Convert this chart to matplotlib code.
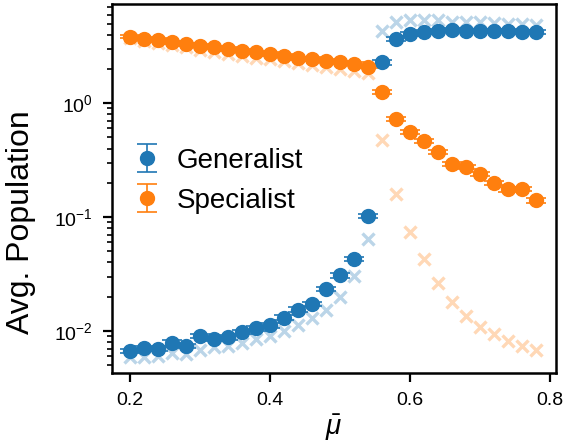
import matplotlib
matplotlib.use('Agg')
import matplotlib.pyplot as plt

plt.rcParams['font.family'] = ['Liberation Sans', 'DejaVu Sans']
plt.rcParams['mathtext.fontset'] = 'custom'
plt.rcParams['mathtext.rm'] = 'Liberation Sans'
plt.rcParams['mathtext.it'] = 'Liberation Sans:italic'

mu = [0.20, 0.22, 0.24, 0.26, 0.28, 0.30, 0.32, 0.34, 0.36, 0.38,
      0.40, 0.42, 0.44, 0.46, 0.48, 0.50, 0.52, 0.54, 0.56, 0.58,
      0.60, 0.62, 0.64, 0.66, 0.68, 0.70, 0.72, 0.74, 0.76, 0.78]

# simulation (circles with error bars)
gen_sim = [0.00667, 0.00709, 0.00690, 0.00784, 0.00733, 0.00898, 0.00850, 0.00875, 0.00970, 0.0105,
           0.0112, 0.0131, 0.0154, 0.0173, 0.0234, 0.0307, 0.0430, 0.102, 2.28, 3.66,
           4.07, 4.24, 4.35, 4.41, 4.35, 4.30, 4.32, 4.32, 4.21, 4.21]
gen_err = [0.0003, 0.0003, 0.0003, 0.0004, 0.0003, 0.0004, 0.0004, 0.0004, 0.0004, 0.0005,
           0.0005, 0.0006, 0.0007, 0.0008, 0.0010, 0.0013, 0.0018, 0.004, 0.10, 0.15,
           0.15, 0.15, 0.15, 0.15, 0.15, 0.15, 0.15, 0.15, 0.15, 0.15]
spe_sim = [3.85, 3.68, 3.60, 3.44, 3.30, 3.19, 3.11, 3.00, 2.88, 2.81,
           2.70, 2.62, 2.49, 2.45, 2.37, 2.29, 2.22, 2.10, 1.265, 0.723,
           0.556, 0.466, 0.375, 0.291, 0.277, 0.239, 0.200, 0.175, 0.177, 0.141]
spe_err = [0.12, 0.12, 0.12, 0.11, 0.11, 0.10, 0.10, 0.10, 0.09, 0.09,
           0.09, 0.08, 0.08, 0.08, 0.08, 0.07, 0.07, 0.07, 0.05, 0.03,
           0.025, 0.02, 0.016, 0.013, 0.012, 0.011, 0.009, 0.008, 0.008, 0.007]

# theory (light crosses)
gen_th = [0.00591, 0.00591, 0.00603, 0.00633, 0.00624, 0.00686, 0.00715, 0.00733, 0.00779, 0.00840,
          0.00898, 0.00994, 0.0112, 0.0129, 0.0154, 0.0199, 0.0301, 0.0638, 4.35, 5.22,
          5.40, 5.40, 5.33, 5.22, 5.19, 5.12, 5.05, 4.98, 4.95, 4.85]
spe_th = [3.75, 3.53, 3.39, 3.26, 3.10, 2.94, 2.83, 2.71, 2.61, 2.52,
          2.43, 2.33, 2.24, 2.17, 2.09, 2.00, 1.90, 1.84, 0.476, 0.159,
          0.0743, 0.0427, 0.0266, 0.0180, 0.0135, 0.0108, 0.00935, 0.00817, 0.00738, 0.00686]

fig = plt.figure(figsize=(5.66, 4.48), dpi=100)
ax = fig.add_axes([0.197, 0.167, 0.785, 0.825])

ax.plot(mu, gen_th, 'x', color='tab:blue', alpha=0.3, ms=9, mew=2.4)
ax.plot(mu, spe_th, 'x', color='tab:orange', alpha=0.3, ms=9, mew=2.4)
ax.errorbar(mu, gen_sim, yerr=gen_err, fmt='o', color='tab:blue', ms=10,
            capsize=7.5, elinewidth=1.2, capthick=1.2, label='Generalist')
ax.errorbar(mu, spe_sim, yerr=spe_err, fmt='o', color='tab:orange', ms=10,
            capsize=7.5, elinewidth=1.2, capthick=1.2, label='Specialist')

ax.set_yscale('log')
ax.set_xlim(0.174, 0.809)
ax.set_ylim(0.00425, 7.5)
ax.set_xticks([0.2, 0.4, 0.6, 0.8])
ax.set_xlabel(r'$\bar{\mu}$', fontsize=20, labelpad=3)
ax.set_ylabel('Avg. Population', fontsize=23)
ax.yaxis.set_label_coords(-0.17, 0.41)

for s in ax.spines.values():
    s.set_linewidth(1.8)
ax.tick_params(which='major', length=6.5, width=1.6, labelsize=14, pad=7)
ax.tick_params(which='minor', length=3.5, width=1.2)

ax.legend(loc='upper left', bbox_to_anchor=(0.018, 0.64), frameon=False,
          fontsize=20, handlelength=1.2, handletextpad=0.45, borderaxespad=0)

fig.savefig('out.png')
